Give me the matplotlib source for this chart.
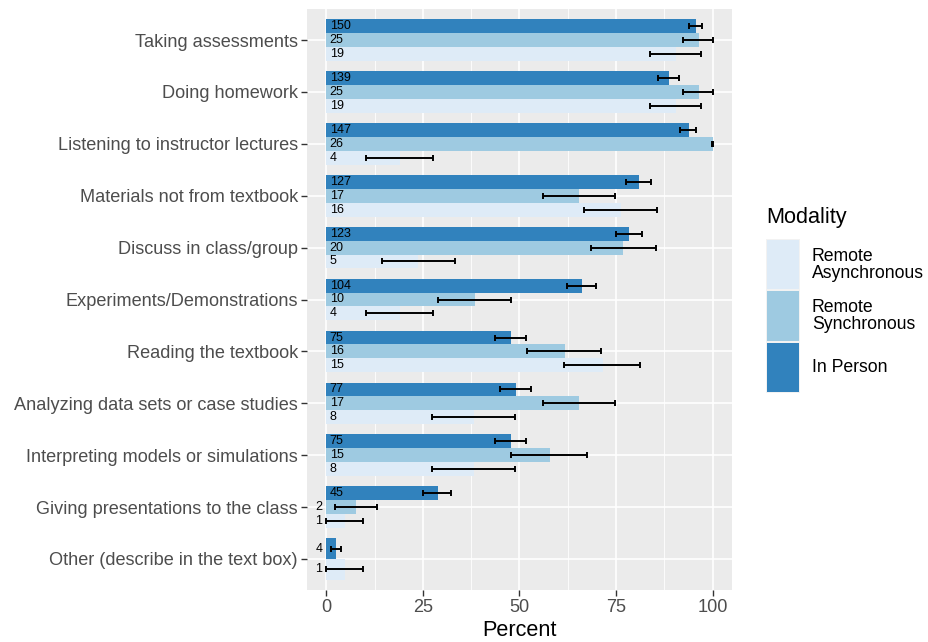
import numpy as np
import matplotlib
matplotlib.use("Agg")
import matplotlib.pyplot as plt
from matplotlib.patches import Rectangle

plt.rcParams['font.family'] = ['Liberation Sans', 'DejaVu Sans']

# Categories, top to bottom
categories = [
    "Taking assessments",
    "Doing homework",
    "Listening to instructor lectures",
    "Materials not from textbook",
    "Discuss in class/group",
    "Experiments/Demonstrations",
    "Reading the textbook",
    "Analyzing data sets or case studies",
    "Interpreting models or simulations",
    "Giving presentations to the class",
    "Other (describe in the text box)",
]

# In Person
ip_pct = [95.6, 88.6, 93.8, 81.0, 78.4, 66.2, 47.9, 49.2, 47.9, 28.8, 2.5]
ip_n = [150, 139, 147, 127, 123, 104, 75, 77, 75, 45, 4]
ip_lo = [93.8, 85.8, 91.5, 77.6, 74.9, 62.3, 43.7, 45.0, 43.7, 25.0, 1.1]
ip_hi = [97.3, 91.2, 95.7, 84.1, 81.6, 69.9, 51.8, 53.0, 51.8, 32.4, 3.9]

# Remote Synchronous (no answer for "Other")
rs_pct = [96.4, 96.4, 100.0, 65.5, 76.9, 38.6, 61.7, 65.5, 57.8, 7.8, None]
rs_n = [25, 25, 26, 17, 20, 10, 16, 17, 15, 2, None]
rs_lo = [92.3, 92.3, 99.8, 56.0, 68.6, 28.8, 51.9, 56.0, 47.9, 2.2, None]
rs_hi = [100.0, 100.0, 100.0, 74.8, 85.2, 47.9, 71.2, 74.8, 67.4, 13.0, None]

# Remote Asynchronous
ra_pct = [90.6, 90.6, 19.1, 76.3, 23.8, 19.1, 71.5, 38.3, 38.3, 4.9, 4.9]
ra_n = [19, 19, 4, 16, 5, 4, 15, 8, 8, 1, 1]
ra_lo = [83.9, 83.9, 10.4, 66.8, 14.3, 10.4, 61.5, 27.4, 27.4, 0.0, 0.0]
ra_hi = [97.0, 97.0, 27.6, 85.6, 33.2, 27.6, 81.3, 48.8, 48.8, 9.5, 9.5]

modalities = ["In Person", "Remote Synchronous", "Remote Asynchronous"]
colors = {"In Person": "#3182BD", "Remote Synchronous": "#9ECAE1",
          "Remote Asynchronous": "#DEEBF7"}
series = {
    "In Person": (ip_pct, ip_n, ip_lo, ip_hi),
    "Remote Synchronous": (rs_pct, rs_n, rs_lo, rs_hi),
    "Remote Asynchronous": (ra_pct, ra_n, ra_lo, ra_hi),
}

W, H = 929, 642
fig = plt.figure(figsize=(W / 100, H / 100), dpi=100)
ax = fig.add_axes([307 / W, (H - 590) / H, (732 - 307) / W, (590 - 9) / H])
ax.set_facecolor("#EBEBEB")

ncat = len(categories)
ypos = np.arange(ncat)[::-1] + 1  # top category highest

# grid
for v in [12.5, 37.5, 62.5, 87.5]:
    ax.axvline(v, color="white", lw=0.6, zorder=0)
for v in [0, 25, 50, 75, 100]:
    ax.axvline(v, color="white", lw=1.2, zorder=0)
for y in ypos:
    ax.axhline(y, color="white", lw=1.2, zorder=0)

# dodged bars
for i, y in enumerate(ypos):
    present = [m for m in modalities if series[m][0][i] is not None]
    k = len(present)
    w = 0.8 / k
    for j, m in enumerate(present):
        pct, n, lo, hi = (s[i] for s in series[m])
        yc = y + 0.4 - w / 2 - j * w
        ax.barh(yc, pct, height=w, color=colors[m], zorder=2)
        ax.errorbar([(lo + hi) / 2], [yc], xerr=[[(hi - lo) / 2], [(hi - lo) / 2]],
                    fmt="none", ecolor="black", elinewidth=1.4, capsize=2.3,
                    capthick=1.4, zorder=3)
        if pct >= 10:
            ax.text(0.9, yc, str(n), ha="left", va="center", fontsize=9,
                    color="black", zorder=4)
        else:
            ax.text(-1.0, yc, str(n), ha="right", va="center", fontsize=9,
                    color="black", zorder=4)

ax.set_xlim(-5, 105)
ax.set_ylim(0.4, ncat + 0.6)
ax.set_xticks([0, 25, 50, 75, 100])
ax.set_xticklabels(["0", "25", "50", "75", "100"])
ax.set_yticks(ypos)
ax.set_yticklabels(categories)
ax.tick_params(axis="both", length=4, width=1.0, color="#333333",
               labelcolor="#4D4D4D", labelsize=13.1, pad=2.5)
for s in ax.spines.values():
    s.set_visible(False)
ax.set_xlabel("Percent", fontsize=15.6, color="black", labelpad=3)

# legend drawn in pixel coordinates
lax = fig.add_axes([0, 0, 1, 1], facecolor="none")
lax.set_xlim(0, W)
lax.set_ylim(H, 0)
lax.axis("off")
lax.text(766, 217, "Modality", fontsize=15.6, ha="left", va="center")
leg_items = [("Remote\nAsynchronous", colors["Remote Asynchronous"]),
             ("Remote\nSynchronous", colors["Remote Synchronous"]),
             ("In Person", colors["In Person"])]
top = 239
kh = 51.3
for idx, (lab, c) in enumerate(leg_items):
    y0 = top + idx * kh
    lax.add_patch(Rectangle((766, y0), 34, kh, facecolor="#F2F2F2", edgecolor="none"))
    lax.add_patch(Rectangle((767, y0 + 1), 32, kh - 2, facecolor=c, edgecolor="none"))
    lax.text(812, y0 + kh / 2, lab, fontsize=12.7, ha="left", va="center",
             linespacing=1.0)

fig.savefig("out.png", dpi=100)
